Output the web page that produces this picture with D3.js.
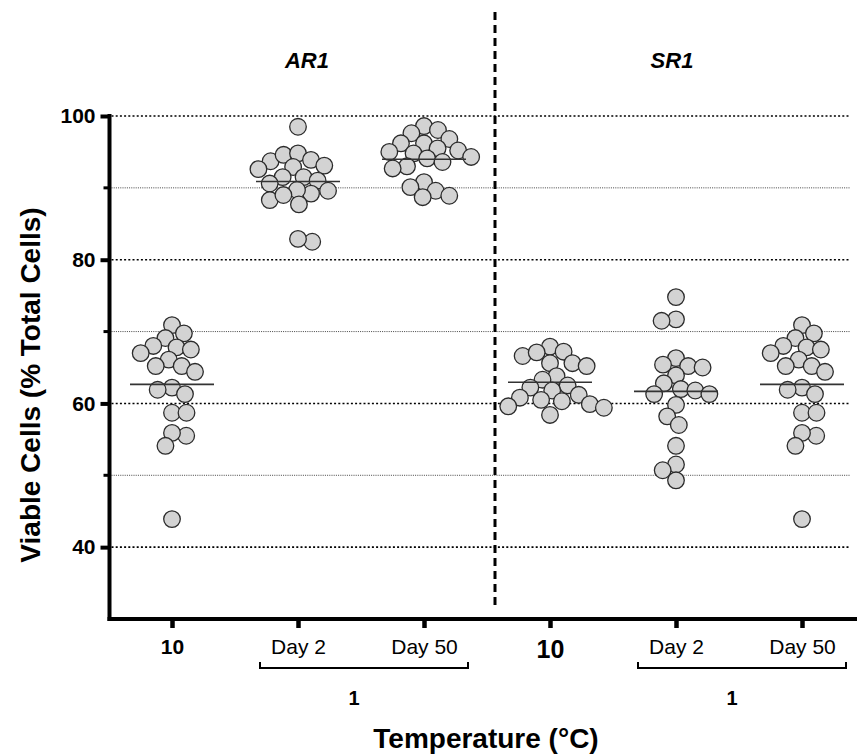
<!DOCTYPE html>
<html><head><meta charset="utf-8">
<script src="https://cdn.jsdelivr.net/npm/d3@7"></script>
<style>body{margin:0;background:#fff}</style>
</head><body><svg id="c" width="857" height="755"></svg>
<script>
// ---------- data ----------
const groupIds = ["AR1-10","AR1-D2","AR1-D50","SR1-10","SR1-D2","SR1-D50"];
const tickLabels = ["10","Day 2","Day 50","10","Day 2","Day 50"];
const panelLabels = ["AR1","SR1"];
const bracketLabels = ["1","1"];
const yTicksMajor = [40,60,80,100];
const yTicksMinor = [50,70,90];
const ar1_10  = [70.9,69.75,69.1,68.0,67.8,67.5,67.0,66.1,65.2,65.2,64.4,62.2,61.3,61.9,58.7,58.7,55.5,55.9,54.1,43.9];
const ar1_d2  = [98.5,93.7,94.6,94.8,93.9,92.9,92.6,93.1,91.5,91.0,91.5,90.6,89.6,89.2,89.7,88.3,89.0,87.7,82.5,82.9];
const ar1_d50 = [98.6,98.05,97.6,96.2,96.8,96.2,95.2,95.5,94.3,94.8,94.1,93.0,92.7,93.6,95.0,90.8,89.6,90.1,88.7,88.9];
const sr1_10  = [67.9,67.2,66.6,67.1,65.6,65.6,65.2,63.8,63.3,62.5,62.2,61.8,61.2,60.8,60.5,60.3,59.9,59.6,59.4,58.4];
const sr1_d2  = [74.8,71.7,71.5,66.3,65.4,65.2,65.0,63.9,62.8,62.0,61.3,61.8,61.3,59.8,58.2,57.0,54.1,51.5,50.7,49.3];
const sr1_d50 = [70.9,69.75,69.1,68.0,67.8,67.5,67.0,66.1,65.2,65.2,64.4,62.2,61.3,61.9,58.7,58.7,55.5,55.9,54.1,43.9];
const groupValues = [ar1_10, ar1_d2, ar1_d50, sr1_10, sr1_d2, sr1_d50];

// ---------- layout ----------
const svg = d3.select("#c");
const FONT = "'Liberation Sans', Arial, Helvetica, sans-serif";
const x = d3.scalePoint().domain(groupIds).range([172, 802]);
const y = d3.scaleLinear().domain([30, 100]).range([619, 116]);
const axisX = 109.5, gridRight = 850;

svg.append("rect").attr("width",857).attr("height",755).attr("fill","#fff");

// grid lines
svg.append("g").selectAll("line").data(yTicksMinor).join("line")
  .attr("x1", axisX+2).attr("x2", gridRight)
  .attr("y1", d=>y(d)).attr("y2", d=>y(d))
  .attr("stroke","#444").attr("stroke-width",1).attr("stroke-dasharray","1,1.2");
svg.append("g").selectAll("line").data(yTicksMajor).join("line")
  .attr("x1", axisX+2).attr("x2", gridRight)
  .attr("y1", d=>y(d)).attr("y2", d=>y(d))
  .attr("stroke","#000").attr("stroke-width",1.6).attr("stroke-dasharray","2,2.2");

// vertical dashed divider
svg.append("line").attr("x1",495).attr("x2",495).attr("y1",12).attr("y2",607)
  .attr("stroke","#000").attr("stroke-width",3).attr("stroke-dasharray","8,5");

// y axis
const yAxis = d3.axisLeft(y).tickValues(yTicksMajor).tickSize(9).tickPadding(5).tickFormat(d3.format("d"));
const gy = svg.append("g").attr("transform",`translate(${axisX},0)`).call(yAxis);
gy.select(".domain").remove();
gy.selectAll(".tick line").attr("stroke","#000").attr("stroke-width",4);
gy.selectAll(".tick text").attr("font-family",FONT).attr("font-weight","bold").attr("font-size",21).attr("fill","#000");
svg.append("g").selectAll("line").data(yTicksMinor).join("line")
  .attr("x1",axisX-6).attr("x2",axisX).attr("y1",d=>y(d)).attr("y2",d=>y(d))
  .attr("stroke","#000").attr("stroke-width",3);
svg.append("line").attr("x1",axisX).attr("x2",axisX).attr("y1",y(100)-2).attr("y2",y(30)+2)
  .attr("stroke","#000").attr("stroke-width",4);

// x axis
svg.append("line").attr("x1",axisX-2).attr("x2",857).attr("y1",y(30)).attr("y2",y(30))
  .attr("stroke","#000").attr("stroke-width",4);
const xAxis = d3.axisBottom(x).tickSize(9).tickFormat((d,i)=>tickLabels[i]);
const gx = svg.append("g").attr("transform",`translate(0,${y(30)})`).call(xAxis);
gx.select(".domain").remove();
gx.selectAll(".tick line").attr("stroke","#000").attr("stroke-width",4.5);
gx.selectAll(".tick text").attr("font-family",FONT).attr("fill","#000").attr("dy",null)
  .attr("y", (d,i)=> i===3 ? 39 : 35)
  .attr("font-weight",(d,i)=> tickLabels[i]==="10" ? "bold" : "normal")
  .attr("font-size",(d,i)=> i===3 ? 25 : 21);

// brackets under Day 2 / Day 50
const brY = 668;
[[1,2],[4,5]].forEach((pair,k)=>{
  const x0 = x(groupIds[pair[0]]) - 38, x1 = x(groupIds[pair[1]]) + 44;
  svg.append("path").attr("d",`M${x0},${brY-6}V${brY}H${x1}V${brY-6}`)
    .attr("fill","none").attr("stroke","#000").attr("stroke-width",2);
  svg.append("text").attr("x",(x0+x1)/2-10).attr("y",705).attr("text-anchor","middle")
    .attr("font-family",FONT).attr("font-weight","bold").attr("font-size",20).text(bracketLabels[k]);
});

// panel labels
[[0,2,9],[3,5,-4]].forEach((p,k)=>{
  svg.append("text").attr("x",(x(groupIds[p[0]])+x(groupIds[p[1]]))/2+p[2]).attr("y",68)
    .attr("text-anchor","middle").attr("font-family",FONT).attr("font-weight","bold")
    .attr("font-style","italic").attr("font-size",22).text(panelLabels[k]);
});

// axis titles
svg.append("text").attr("x",486).attr("y",748).attr("text-anchor","middle")
  .attr("font-family",FONT).attr("font-weight","bold").attr("font-size",28).text("Temperature (°C)");
svg.append("text").attr("transform","translate(40,385) rotate(-90)").attr("text-anchor","middle")
  .attr("font-family",FONT).attr("font-weight","bold").attr("font-size",28).text("Viable Cells (% Total Cells)");

// swarm layout
function swarm(values, minD){
  const pts = values.map((v,i)=>({v, py:y(v), dx:0, i}));
  const order = pts.slice().sort((a,b)=>b.v-a.v);
  const placed = [];
  let flip = 1;
  for(const p of order){
    const cands = [0];
    for(const q of placed){
      const dy = Math.abs(q.py-p.py);
      if(dy < minD){ const h = Math.sqrt(minD*minD-dy*dy); cands.push(q.dx+h, q.dx-h); }
    }
    cands.sort((a,b)=> Math.abs(a)-Math.abs(b) || (a-b)*flip);
    for(const c of cands){
      if(placed.every(q => (q.dx-c)**2 + (q.py-p.py)**2 >= minD*minD - 0.01)){ p.dx = c; break; }
    }
    flip = -flip;
    placed.push(p);
  }
  return pts;
}

const R = 8.3;
groupValues.forEach((vals,gi)=>{
  const cx = x(groupIds[gi]);
  const pts = swarm(vals, 14.5);
  svg.append("g").selectAll("circle").data(pts).join("circle")
    .attr("cx", d=>cx + d.dx).attr("cy", d=>d.py).attr("r", R)
    .attr("fill","#d3d3d3").attr("stroke","#2b2b2b").attr("stroke-width",1.3);
  const m = d3.mean(vals);
  svg.append("line").attr("x1",cx-42).attr("x2",cx+42).attr("y1",y(m)).attr("y2",y(m))
    .attr("stroke","#333").attr("stroke-width",1.6);
});
</script>
</body></html>
